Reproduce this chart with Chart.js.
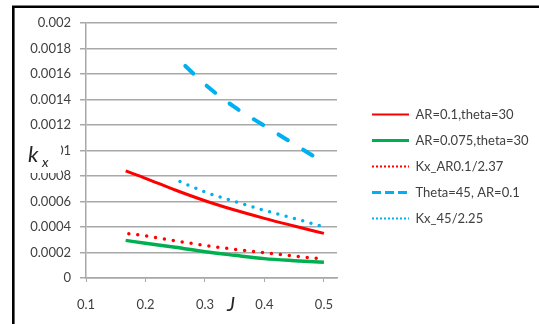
<!DOCTYPE html>
<html>
<head>
<meta charset="utf-8">
<script src="https://cdn.jsdelivr.net/npm/chart.js@4.4.0/dist/chart.umd.min.js"></script>
<style>
  body { margin: 0; background: #fff; }
  canvas { display: block; }
</style>
</head>
<body>
<canvas id="myChart" width="539" height="324"></canvas>
<script>
// values
const xTickValues = [0.1, 0.2, 0.3, 0.4, 0.5];
const yTickValues = [0, 0.0002, 0.0004, 0.0006, 0.0008, 0.001, 0.0012, 0.0014, 0.0016, 0.0018, 0.002];

const seriesNames = ['AR=0.1,theta=30', 'AR=0.075,theta=30', 'Kx_AR0.1/2.37', 'Theta=45, AR=0.1', 'Kx_45/2.25'];

const ar01X = [0.1667, 0.2, 0.25, 0.3, 0.35, 0.4, 0.45, 0.5];
const ar01Y = [0.00084, 0.000782, 0.00069, 0.000606, 0.000533, 0.000468, 0.000408, 0.00035];

const ar075X = [0.1667, 0.2, 0.25, 0.3, 0.35, 0.4, 0.45, 0.5];
const ar075Y = [0.000295, 0.000272, 0.000241, 0.000206, 0.000178, 0.000152, 0.000136, 0.000123];

const kxArX = [0.172, 0.2, 0.25, 0.3, 0.35, 0.4, 0.45, 0.5];
const kxArY = [0.000348, 0.00033, 0.000291, 0.000256, 0.000225, 0.000198, 0.000172, 0.000149];

const theta45X = [0.267, 0.3, 0.35, 0.4, 0.45, 0.5];
const theta45Y = [0.001663, 0.001519, 0.00134, 0.001194, 0.00105, 0.000905];

const kx45X = [0.258, 0.3, 0.35, 0.4, 0.45, 0.5];
const kx45Y = [0.000757, 0.000675, 0.0006, 0.000531, 0.000467, 0.000402];

function pairs(xs, ys) {
    return xs.map((x, i) => ({ x: x, y: ys[i] }));
}

const legendDash = [[], [], [2, 2], [9, 4], [2, 2]];
const legendWidth = [2, 3, 2, 3, 2];

const textColor = '#404040';
const gridColor = '#a8a8a8';

// white page, black frame, axis titles
const decorations = {
    id: 'decorations',
    beforeDraw(chart) {
        const ctx = chart.ctx;
        ctx.save();
        ctx.fillStyle = '#fff';
        ctx.fillRect(0, 0, chart.width, chart.height);
        ctx.strokeStyle = '#000';
        ctx.lineWidth = 2.6;
        ctx.beginPath();
        ctx.moveTo(13.3, chart.height);
        ctx.lineTo(13.3, 6.7);
        ctx.lineTo(chart.width, 6.7);
        ctx.stroke();
        ctx.restore();
    },
    afterDraw(chart) {
        const ctx = chart.ctx;
        ctx.save();
        ctx.fillStyle = '#fff';
        ctx.fillRect(24, 138, 37, 35);
        ctx.fillStyle = '#262626';
        ctx.textBaseline = 'alphabetic';
        ctx.font = 'italic 22px Lato';
        ctx.fillText('k', 28, 162);
        ctx.font = 'italic 14px Lato';
        ctx.fillText('x', 42, 167);
        ctx.font = 'italic 20px Lato';
        ctx.fillText('J', 227, 311);
        ctx.restore();
    }
};

// legend sits 23px right of the plot area
const legendPlacer = {
    id: 'legendPlacer',
    afterInit(chart) {
        const lg = chart.legend;
        const fit = lg.fit;
        lg.fit = function () {
            fit.call(this);
            this.width = 202;
        };
    },
    afterLayout(chart) {
        const lg = chart.legend;
        lg.left = chart.chartArea.right + 22;
        lg.top -= 7;
        lg.bottom -= 7;
    }
};

const ctx = document.getElementById('myChart').getContext('2d');
const chart = new Chart(ctx, {
    type: 'scatter',
    data: {
        datasets: [{
            label: seriesNames[0],
            data: pairs(ar01X, ar01Y),
            borderColor: '#ff0000',
            backgroundColor: '#ff0000',
            borderWidth: 3
        }, {
            label: seriesNames[1],
            data: pairs(ar075X, ar075Y),
            borderColor: '#00b050',
            backgroundColor: '#00b050',
            borderWidth: 3.5
        }, {
            label: seriesNames[2],
            data: pairs(kxArX, kxArY),
            borderColor: '#ff0000',
            backgroundColor: '#ff0000',
            borderWidth: 3.5,
            borderDash: [0, 9],
            borderCapStyle: 'round'
        }, {
            label: seriesNames[3],
            data: pairs(theta45X, theta45Y),
            borderColor: '#00b0f0',
            backgroundColor: '#00b0f0',
            borderWidth: 4,
            borderDash: [11, 18],
            borderCapStyle: 'round'
        }, {
            label: seriesNames[4],
            data: pairs(kx45X, kx45Y),
            borderColor: '#00b0f0',
            backgroundColor: '#00b0f0',
            borderWidth: 3.5,
            borderDash: [0, 8.6],
            borderCapStyle: 'round'
        }]
    },
    options: {
        responsive: false,
        animation: false,
        showLine: true,
        elements: {
            point: { radius: 0, hoverRadius: 0 },
            line: { tension: 0.3, cubicInterpolationMode: 'monotone', fill: false }
        },
        layout: { padding: { left: 0, top: 23, right: 0, bottom: 0 } },
        scales: {
            x: {
                type: 'linear',
                min: 0.1,
                max: 0.522,
                afterBuildTicks: scale => { scale.ticks = xTickValues.map(v => ({ value: v })); },
                afterFit: scale => { scale.height = 46; },
                grid: { drawOnChartArea: false, drawTicks: true, tickLength: 4, color: gridColor },
                border: { color: gridColor, width: 1.5 },
                ticks: {
                    color: textColor,
                    font: { family: 'Lato', size: 13 },
                    padding: 15,
                    maxRotation: 0,
                    callback: v => Number(v.toFixed(1)).toString()
                }
            },
            y: {
                type: 'linear',
                min: 0,
                max: 0.002,
                afterBuildTicks: scale => { scale.ticks = yTickValues.map(v => ({ value: v })); },
                afterFit: scale => { scale.width = 86; },
                grid: { color: gridColor, lineWidth: 1.5, tickLength: 6 },
                border: { color: gridColor, width: 1.5 },
                ticks: {
                    color: textColor,
                    font: { family: 'Lato', size: 13 },
                    padding: 9,
                    callback: v => Number(v.toFixed(4)).toString()
                }
            }
        },
        plugins: {
            tooltip: { enabled: false },
            legend: {
                position: 'right',
                align: 'center',
                labels: {
                    usePointStyle: true,
                    pointStyle: 'line',
                    pointStyleWidth: 37,
                    padding: 13,
                    color: textColor,
                    font: { family: 'Lato', size: 13 },
                    generateLabels: function (chart) {
                        const items = Chart.defaults.plugins.legend.labels.generateLabels(chart);
                        items.forEach((item, i) => {
                            item.lineDash = legendDash[i];
                            item.lineWidth = legendWidth[i];
                            item.lineCap = 'butt';
                            item.pointStyle = 'line';
                        });
                        return items;
                    }
                }
            }
        }
    },
    plugins: [decorations, legendPlacer]
});
</script>
</body>
</html>
